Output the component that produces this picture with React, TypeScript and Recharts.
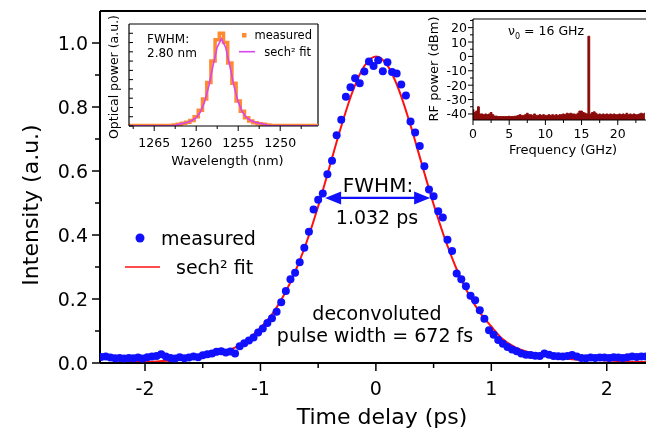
import React from "react";
import {
  ComposedChart,
  LineChart,
  AreaChart,
  Line,
  Scatter,
  Area,
  XAxis,
  YAxis,
  ReferenceLine,
} from "recharts";

// ---- main autocorrelation trace ----
const TIME = [
  -2.38, -2.34, -2.3, -2.26, -2.22, -2.18, -2.14, -2.1, -2.06, -2.02,
  -1.98, -1.94, -1.9, -1.86, -1.82, -1.78, -1.74, -1.7, -1.66, -1.62,
  -1.58, -1.54, -1.5, -1.46, -1.42, -1.38, -1.34, -1.3, -1.26, -1.22,
  -1.18, -1.14, -1.1, -1.06, -1.02, -0.98, -0.94, -0.9, -0.86, -0.82,
  -0.78, -0.74, -0.7, -0.66, -0.62, -0.58, -0.54, -0.5, -0.46, -0.42,
  -0.38, -0.34, -0.3, -0.26, -0.22, -0.18, -0.14, -0.1, -0.06, -0.02,
  0.02, 0.06, 0.1, 0.14, 0.18, 0.22, 0.26, 0.3, 0.34, 0.38,
  0.42, 0.46, 0.5, 0.54, 0.58, 0.62, 0.66, 0.7, 0.74, 0.78,
  0.82, 0.86, 0.9, 0.94, 0.98, 1.02, 1.06, 1.1, 1.14, 1.18,
  1.22, 1.26, 1.3, 1.34, 1.38, 1.42, 1.46, 1.5, 1.54, 1.58,
  1.62, 1.66, 1.7, 1.74, 1.78, 1.82, 1.86, 1.9, 1.94, 1.98,
  2.02, 2.06, 2.1, 2.14, 2.18, 2.22, 2.26, 2.3, 2.34,
];
const MEASURED = [
  0.019, 0.02, 0.017, 0.015, 0.016, 0.014, 0.016, 0.015, 0.017, 0.014,
  0.018, 0.02, 0.022, 0.027, 0.02, 0.016, 0.014, 0.018, 0.015, 0.017,
  0.02, 0.018, 0.024, 0.027, 0.03, 0.035, 0.037, 0.033, 0.036, 0.03,
  0.052, 0.062, 0.07, 0.08, 0.095, 0.108, 0.125, 0.14, 0.16, 0.19,
  0.225, 0.262, 0.282, 0.315, 0.36, 0.41, 0.48, 0.51, 0.53, 0.59,
  0.632, 0.712, 0.76, 0.832, 0.862, 0.89, 0.874, 0.911, 0.942, 0.928,
  0.946, 0.912, 0.94, 0.909, 0.905, 0.87, 0.836, 0.755, 0.72, 0.678,
  0.615, 0.542, 0.521, 0.474, 0.455, 0.385, 0.35, 0.28, 0.262, 0.24,
  0.21, 0.196, 0.165, 0.138, 0.102, 0.088, 0.072, 0.06, 0.05, 0.042,
  0.037, 0.03, 0.026, 0.025, 0.023, 0.022, 0.03, 0.026, 0.022, 0.021,
  0.02, 0.022, 0.025, 0.02, 0.016, 0.015, 0.017, 0.016, 0.017, 0.017,
  0.016, 0.018, 0.017, 0.016, 0.018, 0.02, 0.019, 0.02, 0.02,
];
const FIT_T = [
  -2.4, -2.3, -2.2, -2.1, -2.0, -1.9, -1.8, -1.7, -1.6, -1.5,
  -1.4, -1.3, -1.2, -1.1, -1.0, -0.9, -0.8, -0.7, -0.6, -0.5,
  -0.4, -0.3, -0.2, -0.1, 0.0, 0.1, 0.2, 0.3, 0.4, 0.5,
  0.6, 0.7, 0.8, 0.9, 1.0, 1.1, 1.2, 1.3, 1.4, 1.5,
  1.6, 1.7, 1.8, 1.9, 2.0, 2.1, 2.2, 2.3, 2.4,
];
const FIT = [
  0.0, 0.0, 0.002, 0.004, 0.004, 0.005, 0.007, 0.01, 0.013, 0.018,
  0.025, 0.036, 0.052, 0.075, 0.11, 0.152, 0.21, 0.285, 0.378, 0.49,
  0.615, 0.74, 0.85, 0.928, 0.958, 0.93, 0.853, 0.743, 0.619, 0.496,
  0.386, 0.293, 0.217, 0.158, 0.114, 0.074, 0.05, 0.036, 0.027, 0.02,
  0.016, 0.012, 0.01, 0.01, 0.008, 0.006, 0.004, 0.003, 0.003,
];
const X_TICKS = [-2, -1.5, -1, -0.5, 0, 0.5, 1, 1.5, 2];
const Y_TICKS = [0, 0.1, 0.2, 0.3, 0.4, 0.5, 0.6, 0.7, 0.8, 0.9, 1.0];

// ---- optical spectrum inset ----
const WAVELENGTH = [
  1245.5, 1246, 1246.5, 1247, 1247.5, 1248, 1248.5, 1249, 1249.5, 1250,
  1250.5, 1251, 1251.5, 1252, 1252.5, 1253, 1253.5, 1254, 1254.5, 1255,
  1255.5, 1256, 1256.5, 1257, 1257.5, 1258, 1258.5, 1259, 1259.5, 1260,
  1260.5, 1261, 1261.5, 1262, 1262.5, 1263, 1263.5, 1264, 1264.5, 1265,
  1265.5, 1266, 1266.5, 1267, 1267.5, 1268,
];
const SPEC_MEAS = [
  0.005, 0.005, 0.005, 0.005, 0.005, 0.005, 0.005, 0.005, 0.005, 0.005,
  0.005, 0.005, 0.01, 0.02, 0.025, 0.035, 0.055, 0.09, 0.16, 0.27,
  0.46, 0.68, 0.9, 1.0, 0.93, 0.7, 0.47, 0.29, 0.17, 0.1,
  0.06, 0.04, 0.03, 0.02, 0.01, 0.005, 0.005, 0.005, 0.005, 0.005,
  0.005, 0.005, 0.005, 0.005, 0.005, 0.005,
];
const SPEC_FIT = [
  0.003, 0.003, 0.003, 0.003, 0.003, 0.003, 0.003, 0.003, 0.003, 0.003,
  0.003, 0.003, 0.008, 0.02, 0.03, 0.04, 0.06, 0.09, 0.15, 0.26,
  0.43, 0.65, 0.85, 0.94, 0.85, 0.65, 0.43, 0.26, 0.15, 0.09,
  0.06, 0.04, 0.03, 0.02, 0.008, 0.003, 0.003, 0.003, 0.003, 0.003,
  0.003, 0.003, 0.003, 0.003, 0.003, 0.003,
];
const WL_TICKS = [1267.5, 1265, 1262.5, 1260, 1257.5, 1255, 1252.5, 1250, 1247.5];
const OPT_Y_TICKS = [0, 0.1, 0.2, 0.3, 0.4, 0.5, 0.6, 0.7, 0.8, 0.9, 1.0];

// ---- RF spectrum inset ----
const FREQ = [
  0, 0.25, 0.5, 0.75, 1, 1.25, 1.5, 1.75, 2, 2.25, 2.5, 2.75,
  3, 3.25, 3.5, 3.75, 4, 4.25, 4.5, 4.75, 5, 5.25, 5.5, 5.75,
  6, 6.25, 6.5, 6.75, 7, 7.25, 7.5, 7.75, 8, 8.25, 8.5, 8.75,
  9, 9.25, 9.5, 9.75, 10, 10.25, 10.5, 10.75, 11, 11.25, 11.5, 11.75,
  12, 12.25, 12.5, 12.75, 13, 13.25, 13.5, 13.75, 14, 14.25, 14.5, 14.75,
  15, 15.25, 15.5, 15.75, 16, 16.25, 16.5, 16.75, 17, 17.25, 17.5, 17.75,
  18, 18.25, 18.5, 18.75, 19, 19.25, 19.5, 19.75, 20, 20.25, 20.5, 20.75,
  21, 21.25, 21.5, 21.75, 22, 22.25, 22.5, 22.75, 23, 23.25, 23.5, 23.75,
];
const RF_POWER = [
  -37, -39, -38, -35, -40, -40, -40.5, -40, -40.5, -40, -39, -40.5,
  -41.5, -41.5, -41.8, -41.8, -41.8, -41.8, -41.8, -41.8, -41.6, -41.8, -41.8, -41.6,
  -41.5, -41, -40.5, -41, -41, -40.5, -39.5, -40.5, -40.5, -41, -40, -41,
  -41, -40.5, -41, -40.5, -41, -41, -40.5, -41, -40.5, -41, -40.5, -41,
  -40.5, -40.5, -40, -40.5, -39.5, -40, -39.5, -40, -40, -40.5, -39.5, -38,
  -38, -39, -39.5, -40, 14, -40, -39, -38.5, -39.5, -40.5, -40, -40.5,
  -40, -40.5, -40, -40.5, -40, -40.5, -40, -40.5, -40.5, -40, -40.5, -40,
  -40.5, -39.5, -40.5, -40, -40.5, -40, -40.5, -40.5, -40, -39.5, -40, -39.5,
];
const RF_X_TICKS = [0, 2.5, 5, 7.5, 10, 12.5, 15, 17.5, 20, 22.5];
const RF_Y_TICKS = [-40, -35, -30, -25, -20, -15, -10, -5, 0, 5, 10, 15, 20, 25];

const BLUE = "#1010ff";
const RED = "#ff1010";
const ORANGE = "#ff8a30";
const MAGENTA = "#d945f0";
const DARKRED = "#8b0a0a";

const measuredData = TIME.map((t, i) => ({ t, v: MEASURED[i] }));
const fitData = FIT_T.map((t, i) => ({ t, v: FIT[i] }));
const specData = WAVELENGTH.map((wl, i) => ({ wl, m: SPEC_MEAS[i], f: SPEC_FIT[i] }));
const rfData = FREQ.map((f, i) => ({ f, p: RF_POWER[i] }));

function MainXTick({ x, y, payload }: any) {
  const v = payload.value;
  const major = Number.isInteger(v);
  return (
    <g>
      <line x1={x} x2={x} y1={y} y2={y + (major ? 8 : 5)} stroke="#000" strokeWidth={1.5} />
      {major && (
        <text x={x} y={y + 32} textAnchor="middle" fontSize={19} fill="#000">
          {String(v)}
        </text>
      )}
    </g>
  );
}

function MainYTick({ x, y, payload }: any) {
  const v = payload.value;
  const major = Math.round(v * 10) % 2 === 0;
  return (
    <g>
      <line x1={x} x2={x - (major ? 8 : 5)} y1={y} y2={y} stroke="#000" strokeWidth={1.5} />
      {major && (
        <text x={x - 12} y={y} dy="0.36em" textAnchor="end" fontSize={19} fill="#000">
          {v.toFixed(1)}
        </text>
      )}
    </g>
  );
}

function WlTick({ x, y, payload }: any) {
  const v = payload.value;
  const major = v % 5 === 0;
  return (
    <g>
      <line x1={x} x2={x} y1={y} y2={y + (major ? 5 : 3)} stroke="#000" strokeWidth={1} />
      {major && (
        <text x={x} y={y + 21} textAnchor="middle" fontSize={12.5} fill="#000">
          {v}
        </text>
      )}
    </g>
  );
}

function OptYTick({ x, y }: any) {
  return <line x1={x} x2={x + 4} y1={y} y2={y} stroke="#000" strokeWidth={1} />;
}

function RfXTick({ x, y, payload }: any) {
  const v = payload.value;
  const major = v % 5 === 0;
  return (
    <g>
      <line x1={x} x2={x} y1={y} y2={y + (major ? 5 : 3)} stroke="#000" strokeWidth={1} />
      {major && (
        <text x={x} y={y + 18} textAnchor="middle" fontSize={12.5} fill="#000">
          {v}
        </text>
      )}
    </g>
  );
}

function RfYTick({ x, y, payload }: any) {
  const v = payload.value;
  const major = v % 10 === 0;
  return (
    <g>
      <line x1={x} x2={x - (major ? 5 : 3)} y1={y} y2={y} stroke="#000" strokeWidth={1} />
      {major && (
        <text x={x - 6} y={y} dy="0.36em" textAnchor="end" fontSize={12.5} fill="#000">
          {String(v)}
        </text>
      )}
    </g>
  );
}

const arrowShape = (p: any) => {
  const { x1, y1, x2, y2 } = p;
  const h = 16;
  const w = 6.5;
  return (
    <g>
      <line x1={x1 + h - 2} y1={y1} x2={x2 - h + 2} y2={y2} stroke={BLUE} strokeWidth={2.2} />
      <polygon points={`${x1},${y1} ${x1 + h},${y1 - w} ${x1 + h},${y1 + w}`} fill={BLUE} />
      <polygon points={`${x2},${y2} ${x2 - h},${y2 - w} ${x2 - h},${y2 + w}`} fill={BLUE} />
    </g>
  );
};

export default function App() {
  return (
    <div
      style={{
        position: "fixed",
        left: 8,
        top: 8,
        width: 638,
        height: 426,
        fontFamily: "DejaVu Sans",
      }}
    >
      <ComposedChart width={638} height={426} margin={{ top: 3, right: 0, bottom: 0, left: 0 }}>
        <XAxis
          type="number"
          dataKey="t"
          domain={[-2.39, 2.34]}
          allowDataOverflow
          ticks={X_TICKS}
          interval={0}
          height={71}
          tickSize={0}
          tickMargin={0}
          tick={<MainXTick />}
          axisLine={{ stroke: "#000", strokeWidth: 2 }}
          label={{
            content: ({ viewBox }: any) => (
              <text x={viewBox.x + 282} y={viewBox.y + 61} textAnchor="middle" fontSize={22} fill="#000">
                Time delay (ps)
              </text>
            ),
          }}
        />
        <YAxis
          type="number"
          dataKey="v"
          domain={[0, 1.1]}
          allowDataOverflow
          ticks={Y_TICKS}
          interval={0}
          width={92}
          tickSize={0}
          tickMargin={0}
          tick={<MainYTick />}
          axisLine={{ stroke: "#000", strokeWidth: 2 }}
          label={{
            content: () => (
              <text
                x={22}
                y={197}
                transform="rotate(-90 22 197)"
                textAnchor="middle"
                dominantBaseline="central"
                fontSize={22}
                fill="#000"
              >
                Intensity (a.u.)
              </text>
            ),
          }}
        />
        <ReferenceLine y={1.1} stroke="#000" strokeWidth={2} />
        <Scatter
          data={measuredData}
          isAnimationActive={false}
          shape={(p: any) => <circle cx={p.cx} cy={p.cy} r={4} fill={BLUE} />}
        />
        <Line
          data={fitData}
          dataKey="v"
          type="monotone"
          stroke={RED}
          strokeWidth={2}
          dot={false}
          activeDot={false}
          isAnimationActive={false}
        />
        <ReferenceLine
          segment={[
            { x: -0.44, y: 0.516 },
            { x: 0.47, y: 0.516 },
          ]}
          shape={arrowShape}
        />
      </ComposedChart>

      {/* optical spectrum inset */}
      <div style={{ position: "absolute", left: 92, top: 6 }}>
        <LineChart width={226} height={160} data={specData} margin={{ top: 10, right: 8, bottom: 0, left: 0 }}>
          <XAxis
            type="number"
            dataKey="wl"
            domain={[1245.5, 1268]}
            reversed
            allowDataOverflow
            ticks={WL_TICKS}
            interval={0}
            height={48}
            tickSize={0}
            tickMargin={0}
            tick={<WlTick />}
            axisLine={{ stroke: "#000", strokeWidth: 1.2 }}
            label={{
              content: ({ viewBox }: any) => (
                <text x={viewBox.x + viewBox.width / 2 + 4} y={viewBox.y + 39} textAnchor="middle" fontSize={13} fill="#000">
                  Wavelength (nm)
                </text>
              ),
            }}
          />
          <YAxis
            type="number"
            domain={[0, 1.1]}
            allowDataOverflow
            ticks={OPT_Y_TICKS}
            interval={0}
            width={29}
            tickSize={0}
            tickMargin={0}
            tick={<OptYTick />}
            axisLine={{ stroke: "#000", strokeWidth: 1.2 }}
            label={{
              content: () => (
                <text
                  x={13}
                  y={63}
                  transform="rotate(-90 13 63)"
                  textAnchor="middle"
                  dominantBaseline="central"
                  fontSize={12.5}
                  fill="#000"
                >
                  Optical power (a.u.)
                </text>
              ),
            }}
          />
          <ReferenceLine y={1.1} stroke="#000" strokeWidth={1.2} />
          <ReferenceLine x={1245.5} stroke="#000" strokeWidth={1.2} />
          <Line
            dataKey="m"
            type="step"
            stroke={ORANGE}
            strokeWidth={3.5}
            dot={false}
            activeDot={false}
            isAnimationActive={false}
          />
          <Line
            dataKey="f"
            type="linear"
            stroke={MAGENTA}
            strokeWidth={1.6}
            dot={false}
            activeDot={false}
            isAnimationActive={false}
          />
        </LineChart>
      </div>

      {/* RF spectrum inset */}
      <div style={{ position: "absolute", left: 410, top: 0 }}>
        <AreaChart width={228} height={160} data={rfData} margin={{ top: 11, right: 0, bottom: 0, left: 0 }}>
          <XAxis
            type="number"
            dataKey="f"
            domain={[0, 23.9]}
            allowDataOverflow
            ticks={RF_X_TICKS}
            interval={0}
            height={48}
            tickSize={0}
            tickMargin={0}
            tick={<RfXTick />}
            axisLine={{ stroke: "#000", strokeWidth: 1.2 }}
            label={{
              content: ({ viewBox }: any) => (
                <text x={viewBox.x + 90} y={viewBox.y + 34} textAnchor="middle" fontSize={13} fill="#000">
                  Frequency (GHz)
                </text>
              ),
            }}
          />
          <YAxis
            type="number"
            domain={[-44.2, 26]}
            allowDataOverflow
            ticks={RF_Y_TICKS}
            interval={0}
            width={55}
            tickSize={0}
            tickMargin={0}
            tick={<RfYTick />}
            axisLine={{ stroke: "#000", strokeWidth: 1.2 }}
            label={{
              content: () => (
                <text
                  x={15}
                  y={61}
                  transform="rotate(-90 15 61)"
                  textAnchor="middle"
                  dominantBaseline="central"
                  fontSize={13}
                  fill="#000"
                >
                  RF power (dBm)
                </text>
              ),
            }}
          />
          <ReferenceLine y={26} stroke="#000" strokeWidth={1.2} />
          <Area
            dataKey="p"
            type="step"
            baseValue={-44.2}
            stroke={DARKRED}
            strokeWidth={1}
            fill={DARKRED}
            fillOpacity={1}
            dot={false}
            activeDot={false}
            isAnimationActive={false}
          />
        </AreaChart>
      </div>

      {/* legends and annotations */}
      <svg
        width={638}
        height={426}
        style={{ position: "absolute", left: 0, top: 0, pointerEvents: "none" }}
      >
        <circle cx={132} cy={230} r={4.5} fill={BLUE} />
        <text x={153} y={230} dy="0.36em" fontSize={19} fill="#000">measured</text>
        <line x1={117} x2={152} y1={259} y2={259} stroke={RED} strokeWidth={1.6} />
        <text x={168} y={259} dy="0.36em" fontSize={19} fill="#000">sech² fit</text>

        <text x={370} y={177} dy="0.36em" textAnchor="middle" fontSize={20} fill="#000">FWHM:</text>
        <text x={369} y={209} dy="0.36em" textAnchor="middle" fontSize={19} fill="#000">1.032 ps</text>
        <text x={369} y={305} dy="0.36em" textAnchor="middle" fontSize={19} fill="#000">deconvoluted</text>
        <text x={367} y={327} dy="0.36em" textAnchor="middle" fontSize={19} fill="#000">pulse width = 672 fs</text>

        <text x={139} y={31} dy="0.36em" fontSize={12} fill="#000">FWHM:</text>
        <text x={139} y={44.7} dy="0.36em" fontSize={12} fill="#000">2.80 nm</text>
        <rect x={234} y={25} width={4.5} height={4.5} fill={ORANGE} />
        <text x={304} y={27} dy="0.36em" textAnchor="end" fontSize={11.5} fill="#000">measured</text>
        <line x1={231} x2={247} y1={43.7} y2={43.7} stroke={MAGENTA} strokeWidth={1.6} />
        <text x={303} y={43.7} dy="0.36em" textAnchor="end" fontSize={11.5} fill="#000">sech² fit</text>

        <text x={500} y={22} dy="0.36em" fontSize={12.5} fill="#000">
          <tspan>ν</tspan>
          <tspan fontSize={8} dy={4}>0</tspan>
          <tspan dy={-4}> = 16 GHz</tspan>
        </text>
      </svg>
    </div>
  );
}
